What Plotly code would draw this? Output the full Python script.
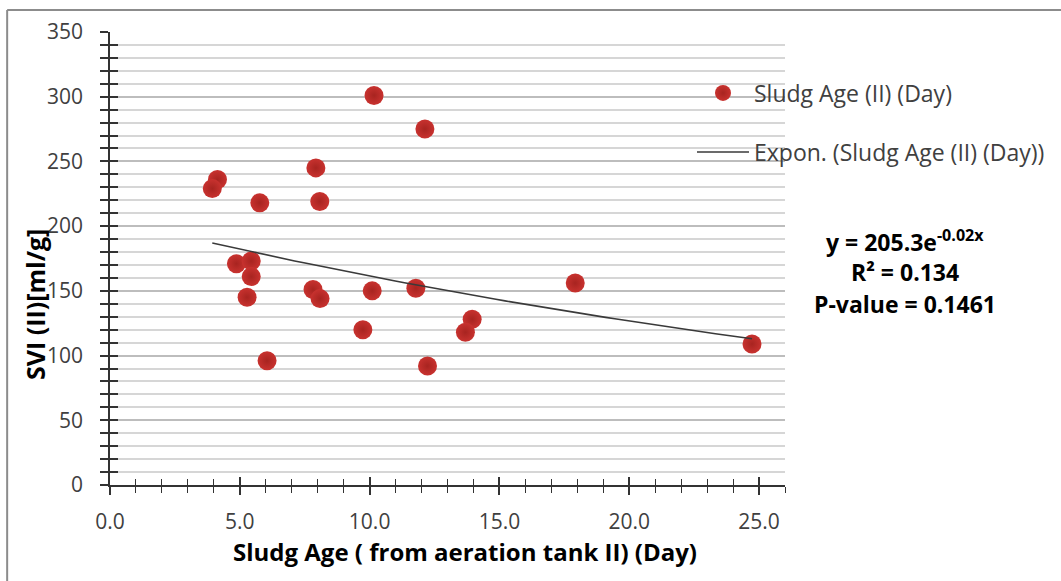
#! python3
# svi_vs_sludge_age.py - SVI (II) against sludge age, with exponential trendline

import numpy as np
import plotly.graph_objects as go

##################################################################################################

# Sludge age (day) and SVI (ml/g)
sludge_age = [10.17, 12.13, 4.14, 3.94, 7.93, 5.77, 8.08, 4.87, 5.44, 5.44, 5.28,
              7.82, 8.09, 10.10, 11.78, 9.74, 6.05, 12.23, 13.95, 13.69, 17.92, 24.73]
svi = [301, 275, 236, 229, 245, 218, 219, 171, 173, 161, 145,
       151, 144, 150, 152, 120, 96, 92, 128, 118, 156, 109]

x_ticks = [0, 5, 10, 15, 20, 25]
x_labels = ['0.0', '5.0', '10.0', '15.0', '20.0', '25.0']

series_name = 'Sludg Age (II) (Day)'
trend_name = 'Expon. (Sludg Age (II) (Day))'
eq_lines = ['y = 205.3e<sup>-0.02x</sup>', 'R² = 0.134', 'P-value = 0.1461']

##################################################################################################

# Excel style exponential fit: ln(y) = ln(a) + b*x
b, ln_a = np.polyfit(np.array(sludge_age), np.log(np.array(svi)), 1)
trend_x = np.linspace(min(sludge_age), max(sludge_age), 60)
trend_y = np.exp(ln_a) * np.exp(b * trend_x)

W, H = 1061, 581
L, R, T, B = 110, 275, 32, 96
pw, ph = W - L - R, H - T - B

def px(x):
    return (x - L) / pw

def py(y):
    return (H - B - y) / ph

FONT = 'Open Sans'
TXT = '#404040'

fig = go.Figure()

fig.add_trace(go.Scatter(x=sludge_age, y=svi, mode='markers', name=series_name,
                         marker=dict(size=19, color='#C8322F',
                                     gradient=dict(type='radial', color='#A82420'),
                                     line=dict(width=0)),
                         legend='legend'))

fig.add_trace(go.Scatter(x=trend_x, y=trend_y, mode='lines', name=trend_name,
                         line=dict(color='#3a3a3a', width=1.6),
                         xaxis='x2', yaxis='y2', legend='legend2'))

xr = [0, 26]
yr = [0, 350]

fig.update_layout(
    width=W, height=H, autosize=False,
    margin=dict(l=L, r=R, t=T, b=B),
    paper_bgcolor='white', plot_bgcolor='white',
    font=dict(family=FONT, size=20, color=TXT),
    xaxis=dict(range=xr, tickvals=x_ticks, ticktext=x_labels, showgrid=False, zeroline=False,
               showline=True, linecolor='#333333', linewidth=1.5,
               ticks='outside', ticklen=8, tickwidth=1.5, tickcolor='#333333',
               minor=dict(dtick=1, ticks='outside', ticklen=6, tickwidth=1.2, tickcolor='#333333', showgrid=False),
               tickfont=dict(size=21, color=TXT), ticklabelstandoff=9),
    yaxis=dict(range=yr, dtick=50, showgrid=True, gridcolor='#bdbdbd', gridwidth=2, zeroline=False,
               showline=True, linecolor='#333333', linewidth=1.5,
               ticks='outside', ticklen=8, tickwidth=1.5, tickcolor='#333333',
               minor=dict(dtick=10, ticks='outside', ticklen=8, tickwidth=1.5, tickcolor='#333333',
                          showgrid=True, gridcolor='#d6d6d6', gridwidth=2),
               tickfont=dict(size=21, color=TXT), ticklabelstandoff=13),
    xaxis2=dict(range=xr, overlaying='x', anchor='y2', side='bottom', tickvals=x_ticks,
                showticklabels=False, showgrid=False, zeroline=False, showline=False,
                ticks='inside', ticklen=8, tickwidth=1.5, tickcolor='#333333',
                minor=dict(dtick=1, ticks='inside', ticklen=6, tickwidth=1.2, tickcolor='#333333', showgrid=False)),
    yaxis2=dict(range=yr, overlaying='y', anchor='x2', side='left', dtick=50,
                showticklabels=False, showgrid=False, zeroline=False, showline=False,
                ticks='inside', ticklen=8, tickwidth=1.5, tickcolor='#333333',
                minor=dict(dtick=10, ticks='inside', ticklen=8, tickwidth=1.5, tickcolor='#333333', showgrid=False)),
    legend=dict(x=px(692), y=py(93), xanchor='left', yanchor='middle', bgcolor='rgba(0,0,0,0)',
                font=dict(family=FONT, size=23, color=TXT), itemwidth=52),
    legend2=dict(x=px(692), y=py(152), xanchor='left', yanchor='middle', bgcolor='rgba(0,0,0,0)',
                 font=dict(family=FONT, size=23, color=TXT), itemwidth=52),
    showlegend=True,
)

# equation block
for txt, ypix in zip(eq_lines, [241, 272, 304]):
    fig.add_annotation(text='<b>' + txt + '</b>', x=px(906), y=py(ypix), xref='paper', yref='paper',
                       showarrow=False, xanchor='center', yanchor='middle',
                       font=dict(family=FONT, size=23, color='black'))

# axis titles
fig.add_annotation(text='<b>Sludg Age ( from aeration tank II) (Day)</b>', x=px(466), y=py(551),
                   xref='paper', yref='paper', showarrow=False, xanchor='center', yanchor='middle',
                   font=dict(family=FONT, size=24, color='black'))
fig.add_annotation(text='<b>SVI (II)[ml/g]</b>', x=px(35), y=py(305), textangle=-90,
                   xref='paper', yref='paper', showarrow=False, xanchor='center', yanchor='middle',
                   font=dict(family=FONT, size=25, color='black'))

# chart frame (only top and left edges visible in the crop)
fig.add_shape(type='line', xref='paper', yref='paper', x0=px(7), x1=px(W + 5), y0=py(10), y1=py(10),
              line=dict(color='#8c8c8c', width=2))
fig.add_shape(type='line', xref='paper', yref='paper', x0=px(7), x1=px(7), y0=py(10), y1=py(H + 5),
              line=dict(color='#8c8c8c', width=2))

fig.write_html('out.html', config={'displayModeBar': False},
               post_script="document.body.style.margin='0px';")
